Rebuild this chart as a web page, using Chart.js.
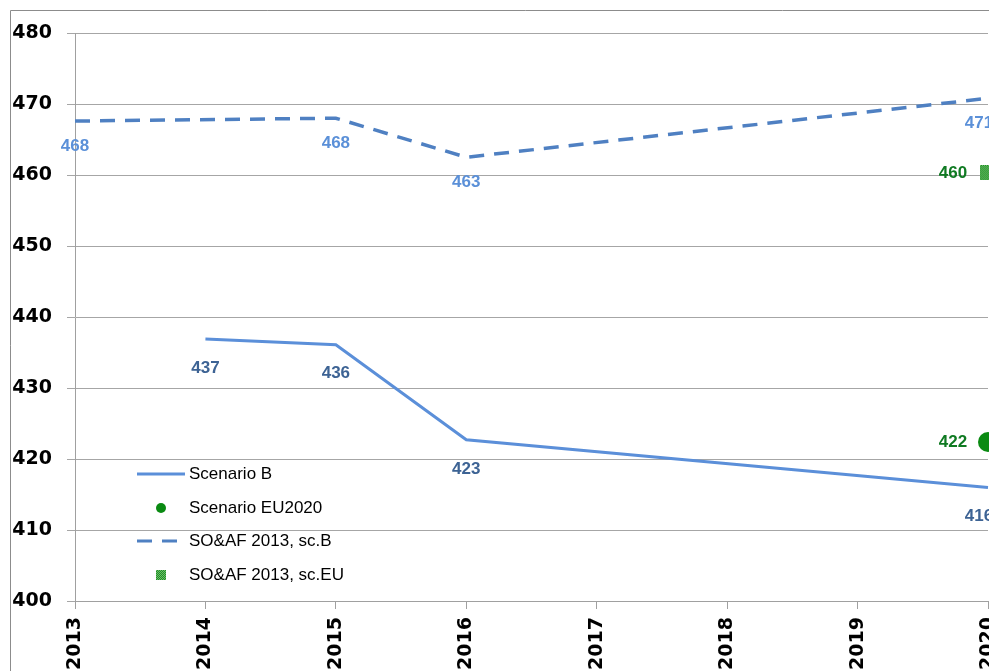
<!DOCTYPE html>
<html>
<head>
<meta charset="utf-8">
<script src="https://cdn.jsdelivr.net/npm/chart.js@4/dist/chart.umd.min.js"></script>
<style>
  html, body { margin: 0; padding: 0; background: #fff; overflow: hidden; }
  #wrap { position: absolute; left: 0; top: 0; width: 1040px; height: 680px; }
</style>
</head>
<body>
<div id="wrap"><canvas id="chart" width="1040" height="680"></canvas></div>
<script>
// values
const years = ['2013', '2014', '2015', '2016', '2017', '2018', '2019', '2020']
const scenarioB = [null, 436.9, 436.1, 422.7, null, null, null, 416.0]
const scenarioEU2020 = [null, null, null, null, null, null, null, 422.4]
const soafB = [467.6, null, 468.0, 462.5, null, null, null, 470.8]
const soafEU = [null, null, null, null, null, null, null, 460.3]
const seriesNames = ['Scenario B', 'Scenario EU2020', 'SO&AF 2013, sc.B', 'SO&AF 2013, sc.EU']
const yTicks = [400, 410, 420, 430, 440, 450, 460, 470, 480]

const GREEN = '#0A8A12'

// small dotted green square used as marker for sc.EU
function makePattern (w, h) {
  const c = document.createElement('canvas')
  c.width = w
  c.height = h
  const g = c.getContext('2d')
  g.fillStyle = '#1E8C2E'
  g.fillRect(0, 0, w, h)
  g.fillStyle = '#6FC062'
  for (let y = 0; y < h; y++) {
    for (let x = (y % 2); x < w; x += 2) g.fillRect(x, y, 1, 1)
  }
  return c
}
const bigSquare = makePattern(16, 15)
const smallSquare = makePattern(10, 10)

// data labels: which dataset, colour and offset from the point
const labelSpec = [
  { ds: 0, color: '#3D6394', dx: 0, dy: 29 },
  { ds: 1, color: '#0F7A22', dx: -35, dy: 0 },
  { ds: 2, color: '#5B90D8', dx: 0, dy: 25 },
  { ds: 3, color: '#0F7A22', dx: -35, dy: 0 }
]

const framePlugin = {
  id: 'frame',
  beforeDraw (chart) {
    const ctx = chart.ctx
    ctx.save()
    ctx.strokeStyle = '#8C8C8C'
    ctx.lineWidth = 1
    ctx.beginPath()
    ctx.moveTo(10.5, chart.height)
    ctx.lineTo(10.5, 10.5)
    ctx.lineTo(chart.width, 10.5)
    ctx.stroke()
    ctx.restore()
  }
}

const labelPlugin = {
  id: 'valueLabels',
  afterDatasetsDraw (chart) {
    const ctx = chart.ctx
    const last = chart.data.labels.length - 1
    ctx.save()
    ctx.font = 'bold 17px "Liberation Sans", Arial, sans-serif'
    ctx.textAlign = 'center'
    ctx.textBaseline = 'middle'
    labelSpec.forEach(spec => {
      const meta = chart.getDatasetMeta(spec.ds)
      const data = chart.data.datasets[spec.ds].data
      meta.data.forEach((pt, i) => {
        if (data[i] == null) return
        // labels under the last point are pushed inside the plot
        const shift = (spec.dx === 0 && i === last) ? -9 : 0
        ctx.fillStyle = spec.color
        ctx.fillText(String(Math.round(data[i])), pt.x + spec.dx + shift, pt.y + spec.dy)
      })
    })
    ctx.restore()
  }
}

const legendPlugin = {
  id: 'insideLegend',
  afterDraw (chart) {
    const ctx = chart.ctx
    const ds = chart.data.datasets
    const x0 = 137
    const tx = 189
    const rows = [474, 508, 541, 575]
    ctx.save()
    ctx.font = '17px "Liberation Sans", Arial, sans-serif'
    ctx.textBaseline = 'middle'
    ctx.textAlign = 'left'

    // Scenario B
    ctx.strokeStyle = ds[0].borderColor
    ctx.lineWidth = 3
    ctx.beginPath()
    ctx.moveTo(x0, rows[0])
    ctx.lineTo(x0 + 48, rows[0])
    ctx.stroke()
    // Scenario EU2020
    ctx.fillStyle = GREEN
    ctx.beginPath()
    ctx.arc(x0 + 24, rows[1], 5, 0, Math.PI * 2)
    ctx.fill()
    // SO&AF sc.B
    ctx.strokeStyle = ds[2].borderColor
    ctx.lineWidth = 3
    ctx.beginPath()
    ctx.moveTo(x0, rows[2]); ctx.lineTo(x0 + 15, rows[2])
    ctx.moveTo(x0 + 25, rows[2]); ctx.lineTo(x0 + 40, rows[2])
    ctx.stroke()
    // SO&AF sc.EU
    ctx.drawImage(smallSquare, x0 + 19, rows[3] - 5)

    ctx.fillStyle = '#000'
    seriesNames.forEach((name, i) => ctx.fillText(name, tx, rows[i]))
    ctx.restore()
  }
}

const tickFont = { family: '"DejaVu Sans", sans-serif', size: 19, weight: 'bold' }

new Chart(document.getElementById('chart'), {
  type: 'line',
  data: {
    labels: years,
    datasets: [
      {
        label: seriesNames[0],
        data: scenarioB,
        borderColor: '#5B8FD9',
        borderWidth: 3,
        pointRadius: 0,
        spanGaps: true,
        tension: 0
      },
      {
        label: seriesNames[1],
        data: scenarioEU2020,
        showLine: false,
        pointStyle: 'circle',
        pointRadius: 10,
        pointBackgroundColor: GREEN,
        pointBorderWidth: 0,
        borderColor: GREEN
      },
      {
        label: seriesNames[2],
        data: soafB,
        borderColor: '#4F80C2',
        borderWidth: 3.5,
        borderDash: [15, 10],
        pointRadius: 0,
        spanGaps: true,
        tension: 0
      },
      {
        label: seriesNames[3],
        data: soafEU,
        showLine: false,
        pointStyle: bigSquare,
        pointRadius: 8,
        borderColor: GREEN
      }
    ]
  },
  options: {
    responsive: false,
    animation: false,
    events: [],
    layout: { padding: { left: 0, right: 52, top: 33, bottom: 0 } },
    plugins: {
      legend: { display: false },
      tooltip: { enabled: false }
    },
    scales: {
      x: {
        offset: false,
        afterFit (scale) { scale.height = 79 },
        grid: {
          drawOnChartArea: false,
          drawTicks: true,
          tickLength: 8,
          color: '#A0A0A0'
        },
        border: { display: true, color: '#A0A0A0' },
        ticks: {
          minRotation: 90,
          maxRotation: 90,
          autoSkip: false,
          padding: 8,
          color: '#000',
          font: tickFont
        }
      },
      y: {
        min: yTicks[0],
        max: yTicks[yTicks.length - 1],
        afterFit (scale) { scale.width = 75 },
        afterBuildTicks (scale) { scale.ticks = yTicks.map(v => ({ value: v })) },
        grid: {
          color: '#A6A6A6',
          lineWidth: 1,
          tickLength: 8
        },
        border: { display: true, color: '#A0A0A0' },
        ticks: {
          padding: 15,
          color: '#000',
          font: tickFont,
          callback: v => String(v)
        }
      }
    }
  },
  plugins: [framePlugin, labelPlugin, legendPlugin]
})
</script>
</body>
</html>
